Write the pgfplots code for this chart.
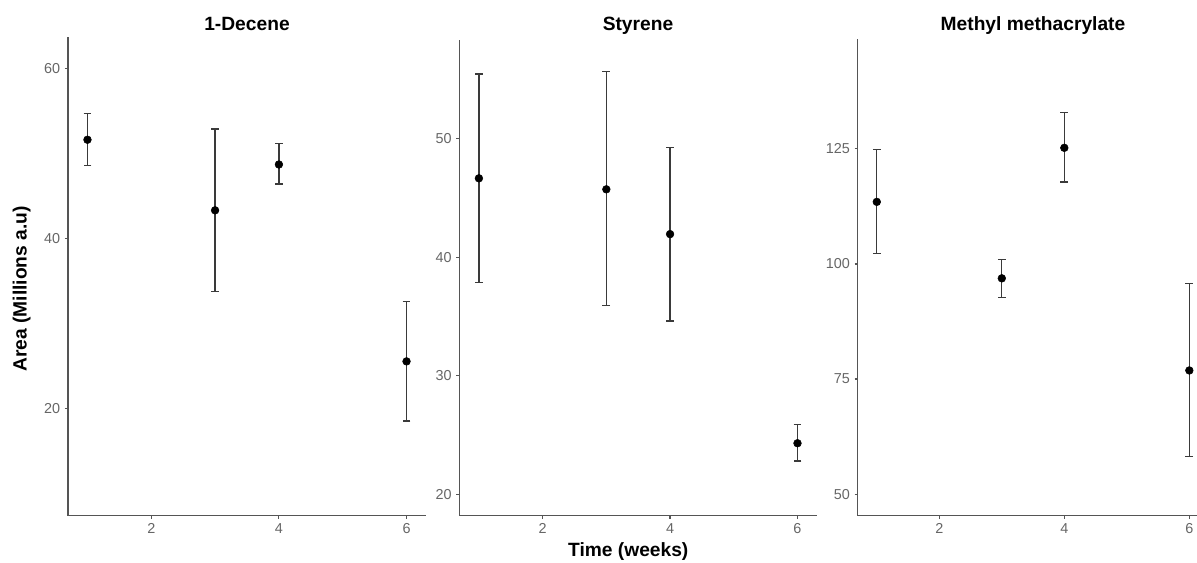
\documentclass[border=0pt]{standalone}
\usepackage{fontspec}
\setmainfont{Liberation Sans}
\usepackage{pgfplots}
\pgfplotsset{compat=1.18}
\usepackage{pgfplotstable}

\definecolor{axcol}{HTML}{555555}
\definecolor{tickcol}{HTML}{666666}
\definecolor{barcol}{HTML}{3A3A3A}

\pgfplotstableread{
x y ep em
1 51.66 3.12 3.00
3 43.36 9.55 9.59
4 48.75 2.51 2.31
6 25.59 7.04 7.01
}\decene

\pgfplotstableread{
x y ep em
1 46.66 8.80 8.80
3 45.73 9.93 9.82
4 41.95 7.32 7.34
6 24.30 1.56 1.51
}\styrene

\pgfplotstableread{
x y ep em
1 113.48 11.37 11.22
3 96.88 4.09 4.21
4 125.22 7.71 7.40
6 76.87 18.94 18.64
}\mma

\pgfplotsset{
  panel/.style={
    scale only axis,
    anchor=south west,
    axis lines=left,
    axis line style={axcol, line width=0.85pt, -},
    xmin=0.695, xmax=6.305,
    xtick={2,4,6},
    tick align=outside,
    major tick length=2.4pt,
    tick style={axcol, line width=0.85pt},
    ticklabel style={font=\fontsize{10.8}{12}\selectfont, text=tickcol},
    /pgf/number format/assume math mode=true,
    clip=false,
  },
  pts/.style={
    only marks, mark=*, mark size=2.9pt, black,
    error bars/.cd, y dir=both, y explicit,
    error bar style={barcol, line width=0.95pt},
    error mark options={rotate=90, barcol, mark size=2.9pt, line width=0.95pt},
  },
}

\begin{document}
\begin{tikzpicture}
\path[use as bounding box] (0,0) rectangle (897.75pt,421.5pt);

\begin{axis}[panel, at={(51pt,34.875pt)}, width=268.5pt, height=358.9pt,
  ymin=7.46, ymax=63.75, ytick={20,40,60}]
\addplot[pts] table[x=x, y=y, y error plus=ep, y error minus=em] {\decene};
\end{axis}

\begin{axis}[panel, at={(344.6pt,34.875pt)}, width=268.1pt, height=356.6pt,
  ymin=18.2, ymax=58.33, ytick={20,30,40,50}]
\addplot[pts] table[x=x, y=y, y error plus=ep, y error minus=em] {\styrene};
\end{axis}

\begin{axis}[panel, at={(643.3pt,34.875pt)}, width=263.0pt, height=357.2pt,
  ymin=45.37, ymax=148.8, ytick={50,75,100,125}]
\addplot[pts] table[x=x, y=y, y error plus=ep, y error minus=em] {\mma};
\end{axis}

\begin{scope}[every node/.style={font=\bfseries\fontsize{14.4}{16}\selectfont, inner sep=0pt}]
\node[anchor=base] at (185.25pt,398.6pt) {1-Decene};
\node[anchor=base] at (478.5pt,398.6pt) {Styrene};
\node[anchor=base] at (774.75pt,398.6pt) {Methyl methacrylate};
\node[anchor=base] at (471.2pt,4pt) {Time (weeks)};
\node[rotate=90, anchor=center] at (16.3pt,204.75pt) {Area (Millions a.u)};
\end{scope}
\end{tikzpicture}
\end{document}
